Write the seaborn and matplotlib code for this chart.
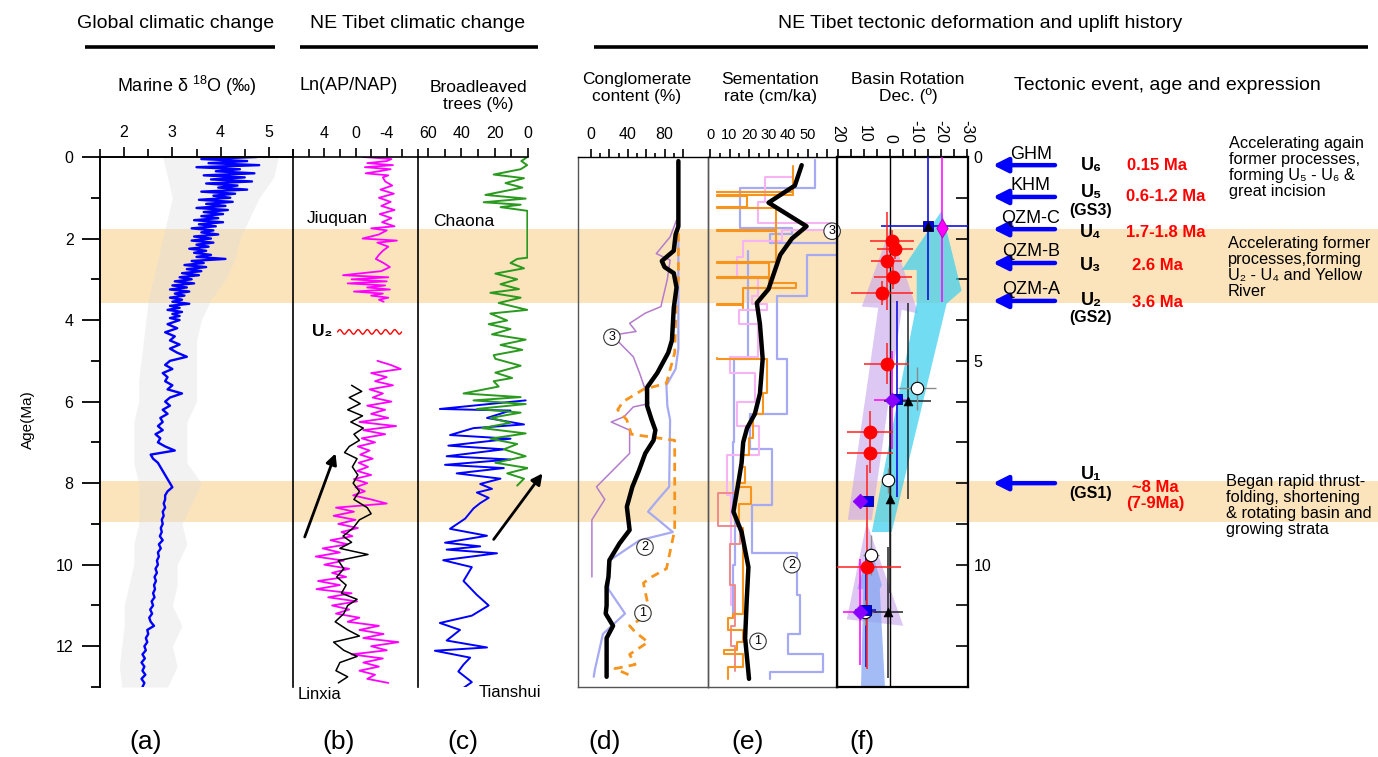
import numpy as np
import matplotlib
matplotlib.use('Agg')
import matplotlib.pyplot as plt
import seaborn as sns
from matplotlib.ticker import MultipleLocator, FixedLocator, FuncFormatter, NullLocator
from matplotlib.lines import Line2D
from matplotlib.patches import Polygon

sns.set_theme(style='white')
plt.rcParams['font.family'] = ['Liberation Sans', 'DejaVu Sans']
plt.rcParams['axes.unicode_minus'] = False
plt.rcParams['text.color'] = 'black'
plt.rcParams['xtick.color'] = 'black'
plt.rcParams['ytick.color'] = 'black'
plt.rcParams['mathtext.fontset'] = 'custom'
plt.rcParams['mathtext.rm'] = 'Liberation Sans'
plt.rcParams['mathtext.it'] = 'Liberation Sans:italic'
plt.rcParams['mathtext.bf'] = 'Liberation Sans:bold'

# ------------------------------------------------------------------ data
# (a) marine d18O
d18o_age = np.round(np.concatenate([np.arange(0, 4.0, 0.05), np.arange(4.0, 13.001, 0.1)]), 2)
d18o_val = [4.75, 3.60, 4.55, 3.75, 4.80, 3.50, 4.40, 3.90, 4.70, 3.65,
            4.50, 3.80, 4.65, 3.70, 4.35, 3.95, 4.55, 3.60, 4.30, 3.85,
            4.20, 3.55, 4.25, 3.70, 4.10, 3.50, 4.15, 3.65, 4.05, 3.60,
            3.95, 3.45, 4.05, 3.55, 3.90, 3.40, 3.85, 3.60, 3.95, 3.45,
            3.80, 3.40, 3.85, 3.50, 3.75, 3.35, 3.70, 3.45, 3.80, 3.50,
            4.10, 3.40, 3.65, 3.25, 3.70, 3.30, 3.60, 3.20, 3.55, 3.15,
            3.40, 3.05, 3.45, 3.00, 3.30, 2.95, 3.35, 3.05, 3.25, 2.95,
            3.20, 3.00, 3.35, 2.95, 3.15, 2.90, 3.20, 3.00, 3.15, 2.95,
            3.15, 2.90, 3.10, 2.85, 3.05, 2.95, 3.15, 2.95, 3.10, 3.30,
            2.95, 2.85, 3.00, 2.80, 2.90, 2.85, 3.00, 2.90, 3.20, 2.95,
            2.85, 2.95, 2.80, 2.90, 2.75, 2.80, 2.70, 2.80, 2.65, 2.75,
            2.70, 2.85, 3.05, 2.55, 2.60, 2.70, 2.75, 2.80, 2.85, 2.90,
            2.95, 3.00, 2.90, 2.85, 2.85, 2.82, 2.85, 2.80, 2.82, 2.78,
            2.80, 2.76, 2.78, 2.74, 2.80, 2.72, 2.76, 2.70, 2.72, 2.68,
            2.70, 2.65, 2.68, 2.63, 2.66, 2.62, 2.64, 2.60, 2.63, 2.57,
            2.60, 2.54, 2.58, 2.52, 2.55, 2.62, 2.48, 2.50, 2.45, 2.48,
            2.42, 2.45, 2.38, 2.43, 2.36, 2.42, 2.38, 2.44, 2.36, 2.42, 2.38]
raw_age = [0, 0.5, 1, 1.5, 2, 2.5, 3, 3.5, 4, 4.5, 5, 5.5, 6, 6.5, 7, 7.5, 8, 8.5,
           9, 9.5, 10, 10.5, 11, 11.5, 12, 12.5, 13]
raw_lo = [2.8, 2.9, 3.0, 2.9, 2.8, 2.7, 2.6, 2.5, 2.45, 2.4, 2.35, 2.3, 2.3, 2.2,
          2.2, 2.2, 2.3, 2.3, 2.3, 2.2, 2.2, 2.1, 2.0, 2.0, 1.95, 1.9, 1.95]
raw_hi = [5.2, 5.1, 4.8, 4.6, 4.4, 4.3, 4.1, 3.8, 3.6, 3.5, 3.5, 3.5, 3.5, 3.3,
          3.3, 3.3, 3.6, 3.4, 3.2, 3.3, 3.1, 3.1, 3.0, 3.2, 3.0, 3.1, 2.9]

# (b) Ln(AP/NAP)
jiu_age = [0.0, 0.05, 0.1, 0.15, 0.2, 0.25, 0.3, 0.35, 0.4, 0.45, 0.5, 0.6, 0.7, 0.8,
           0.9, 1.0, 1.1, 1.2, 1.3, 1.4, 1.5, 1.6, 1.7, 1.75, 1.8, 1.9, 2.0, 2.05,
           2.1, 2.2, 2.3, 2.4, 2.5, 2.6, 2.7, 2.8, 2.9, 2.95, 3.0, 3.05, 3.1, 3.15,
           3.2, 3.25, 3.3, 3.35, 3.4, 3.45, 3.5, 3.55]
jiu_val = [-1.0, -4.6, -4.0, -1.5, -4.8, -1.2, -4.5, -3.0, -1.3, -4.2, -3.5, -3.8,
           -4.7, -3.2, -4.9, -3.0, -4.5, -3.3, -5.0, -3.1, -4.6, -3.4, -5.0, -2.0,
           -4.0, -3.0, -0.9, -5.3, -2.8, -4.2, -3.5, -3.0, -2.6, -3.6, -4.4, -3.3,
           1.6, -4.2, 0.5, -4.0, 1.0, -3.8, -1.5, -4.4, 0.2, -3.5, -2.0, -4.2, -3.0, -3.6]
linx_m_age = np.round(np.arange(5.0, 12.91, 0.1), 1)
linx_m_val = [-2.8, -4.5, -5.8, -2.0, -4.0, -2.5, -4.8, -1.8, -3.5, -2.2,
              -4.6, -1.5, -3.8, -2.0, -4.2, -0.5, -5.2, -1.0, -3.8, -0.8,
              -2.5, -0.3, -1.8, -0.6, -2.2, -0.4, -1.6, -0.2, -2.0, 0.2,
              -1.5, 0.0, -1.2, 0.3, -2.0, -4.0, 2.5, 0.2, 2.8, 0.0,
              2.2, -0.3, 1.8, 0.4, 3.2, 1.0, 4.2, 2.0, 5.1, 1.5,
              4.0, 0.8, 3.0, 1.2, 4.8, 2.0, 5.0, 0.5, 3.5, -0.2,
              3.0, 0.8, 2.5, -0.5, 1.0, -3.0, -0.5, -3.6, -1.0, -5.5,
              -2.0, -4.0, 0.5, -3.5, -1.0, -3.0, -0.5, -2.5, -1.5, -4.2]
linx_k_age = [5.6, 5.75, 5.9, 6.05, 6.2, 6.35, 6.5, 6.65, 6.8, 6.95, 7.1, 7.25, 7.4,
              7.6, 7.8, 8.0, 8.2, 8.4, 8.6, 8.75, 8.9, 9.1, 9.3, 9.45, 9.6, 9.75,
              9.9, 10.1, 10.3, 10.5, 10.7, 10.85, 11.0, 11.2, 11.4, 11.6, 11.75,
              11.9, 12.1, 12.25, 12.4, 12.6, 12.75, 12.9]
linx_k_val = [0.5, -0.8, 0.8, -0.6, 1.0, -0.9, 0.6, -1.0, 0.2, -0.5, 0.8, 1.4, -0.2,
              0.4, -0.3, 0.3, -0.5, 0.2, -1.5, -2.0, -0.5, 0.3, 1.6, 0.5, 2.0, -1.6,
              2.2, 1.5, 2.4, 1.2, 1.8, -0.2, 1.0, 1.5, 2.6, 1.0, -0.5, 2.8, 1.5, -0.2,
              2.0, 2.5, 1.0, 2.2]

# (c) broadleaved trees (%)
chaona_age = [0.0, 0.1, 0.2, 0.3, 0.43, 0.52, 0.64, 0.75, 0.93, 1.02, 1.11, 1.17, 1.23,
              1.32, 1.49, 2.47, 2.5, 2.6, 2.73, 2.86, 3.0, 3.12, 3.24, 3.33, 3.45, 3.58,
              3.75, 3.84, 4.01, 4.1, 4.22, 4.35, 4.48, 4.61, 4.73, 4.86, 4.95, 5.12,
              5.29, 5.42, 5.5, 5.63, 5.8, 5.89, 5.97, 6.06, 6.18, 6.27, 6.4, 6.52, 6.65,
              6.78, 6.91, 7.04, 7.17, 7.34, 7.5, 7.63, 7.76, 7.89, 8.06]
chaona_val = [0.4, 4.0, 0.5, 4.4, 20.6, 2.4, 13.5, 3.4, 25.6, 1.4, 26.6, 4.4, 16.5,
              0.4, 0.4, 0.4, 6.5, 10.5, 2.4, 19.6, 6.5, 16.5, 5.4, 22.6, 4.4, 17.6,
              0.4, 22.6, 12.5, 23.6, 10.5, 21.6, 1.4, 16.5, 3.4, 20.6, 19.6, 4.4,
              19.6, 9.5, 20.6, 17.6, 38.7, 4.4, 32.7, 1.4, 30.7, 4.4, 22.6, 10.5, 27.6,
              1.4, 22.6, 6.5, 14.5, 1.4, 19.6, 0.0, 12.5, 2.4, 6.5]
tianshui_age = [5.97, 6.18, 6.22, 6.4, 6.56, 6.65, 6.82, 6.91, 7.08, 7.17, 7.34, 7.42,
                7.55, 7.63, 7.76, 7.89, 8.02, 8.14, 8.23, 8.36, 8.49, 8.62, 8.87, 9.12,
                9.29, 9.46, 9.55, 9.63, 9.72, 9.89, 10.06, 10.4, 10.74, 11.0, 11.25,
                11.43, 11.6, 11.86, 12.03, 12.11, 12.28, 12.45, 12.62, 12.88, 13.05]
tianshui_val = [1.4, 52.9, 10.5, 24.6, 2.4, 32.7, 46.8, 10.5, 47.8, 14.5, 48.8, 10.5,
                49.8, 14.5, 42.8, 16.5, 28.7, 21.6, 30.7, 23.6, 28.7, 32.7, 37.7, 46.8,
                24.6, 49.8, 28.7, 48.8, 18.6, 50.9, 33.7, 38.7, 30.7, 23.6, 33.7, 52.9,
                40.8, 48.8, 24.6, 55.9, 34.7, 38.7, 41.8, 33.7, 39.7]

# (d) conglomerate content (%)
dk_age = [0.1, 1.7, 1.9, 2.3, 2.55, 2.7, 2.85, 3.2, 3.7, 4.5, 4.8, 5.3, 5.65, 6.1,
          6.45, 6.7, 6.95, 7.27, 7.7, 8.09, 8.58, 9.15, 9.48, 9.89, 10.3, 10.54,
          11.0, 11.2, 11.5, 11.8, 12.2, 12.75]
dk_val = [95, 95, 92, 90, 77, 80, 90, 93, 90, 88, 84, 72, 61, 61, 66, 70, 68, 59, 52,
          45, 39, 42, 31, 20, 19, 17, 17, 16, 24, 17, 17, 17]
do_age = [0.1, 3.0, 3.3, 4.8, 5.55, 5.7, 6.0, 6.2, 6.45, 6.8, 6.95, 9.15, 10.1, 10.3,
          10.45, 11.2, 11.5, 11.65, 11.9, 12.2, 12.45, 12.55, 12.75]
do_val = [95, 95, 93, 91, 82, 57, 35, 29, 39, 44, 91, 91, 82, 66, 57, 64, 42, 48, 62,
          42, 48, 26, 46]
dl_age = [2.0, 4.7, 5.2, 5.6, 6.1, 6.45, 8.09, 8.4, 8.7, 8.9, 9.2, 9.4, 9.9, 10.6,
          11.2, 11.7, 12.6, 12.75]
dl_val = [95, 95, 92, 82, 83, 86, 85, 73, 62, 73, 89, 53, 20, 19, 37, 13, 4, 3]
dp_age = [1.55, 1.96, 2.37, 2.53, 3.0, 3.67, 3.83, 4.08, 4.28, 4.4, 4.49, 4.9, 5.31,
          5.64, 6.05, 6.13, 6.37, 6.5, 6.7, 7.27, 8.09, 8.4, 8.9, 10.3]
dp_val = [93, 86, 71, 86, 83, 76, 59, 42, 49, 15, 28, 46, 53, 58, 63, 46, 36, 22, 42,
          42, 6, 15, 1, 1]

# (e) sedimentation rate (cm/ka); step series: value holds from age[i] to age[i+1]
ek_age = [0.2, 0.7, 1.12, 1.7, 2.0, 2.4, 3.24, 3.58, 4.1, 4.95, 5.8, 6.3, 6.65, 7.0,
          7.5, 8.0, 8.7, 9.2, 10.06, 10.9, 11.8, 12.8]
ek_val = [47, 43.5, 30, 49.5, 42, 36, 30, 24, 25.6, 27, 25.6, 23, 19, 17, 16.2, 14.5,
          12, 16.2, 19.7, 18.8, 18, 20]
el2_age = [0.08, 0.77, 1.75, 1.88, 2.12, 2.4, 3.41, 4.95, 6.31, 7.17, 8.53, 9.72,
           10.75, 11.7, 12.2, 12.62, 12.8]
el2_val = [54, 15.4, 42, 30.8, 65.8, 49.6, 34.2, 39.3, 20.5, 31.6, 21.4, 44.4, 46, 40,
           58, 30.8, 30.8]
el1_age = [2.3, 4.95, 7.0, 8.5, 10.0, 11.3]
el1_val = [19.7, 12.5, 11.8, 13.0, 12.0, 12.0]
ep_age = [0.47, 0.48, 1.11, 1.62, 1.8, 2.05, 2.45, 2.95, 3.4, 3.6, 3.75, 4.1, 4.9, 5.3,
          6.0, 6.6, 7.3, 8.3, 9.5, 10.5, 11.0]
ep_val = [42.7, 28.2, 24.8, 62, 36.8, 17, 13.7, 24.8, 21.4, 29, 15, 24.8, 10.5, 23,
          13.7, 25, 8.5, 11, 10, 11, 11]
eo1_age = [0.21, 0.85, 0.87, 0.93, 0.95, 1.22, 1.24, 1.79, 1.81, 2.57, 2.59, 2.94,
           2.96, 3.1, 3.22, 3.6, 3.64, 3.7]
eo1_val = [42.7, 3.4, 42.7, 3.4, 18.8, 3.4, 34, 3.4, 34, 3.4, 30, 3.4, 30, 44, 17,
           3.4, 17, 17]
eo2_age = [4.94, 4.96, 5.8, 6.3, 6.9, 7.3, 7.6, 8.0, 8.1, 8.5, 9.1, 11.2, 11.3, 11.6,
           11.9, 12.1, 12.2, 12.5, 12.8]
eo2_val = [3.4, 29, 27, 22, 20, 16, 18, 13.7, 21, 15, 17, 12, 9.4, 17, 14, 7, 17, 9, 9]
es_age = [8.2, 8.23, 9.04, 9.5, 10.5, 11.5, 12.0, 12.6]
es_val = [12.8, 4.3, 15.4, 10.3, 12.8, 11, 13, 13]

# (f) basin rotation declination (deg)
red_dec = [-0.9, -2.1, 1.1, -1.3, 2.8, 1.1, 7.6, 7.6, 8.6]
red_age = [2.05, 2.26, 2.56, 2.94, 3.33, 5.07, 6.74, 7.25, 10.06]
red_xerr = [8.4, 7.0, 6.0, 7.5, 12.0, 8.7, 8.9, 8.9, 13.0]
red_yerr = [0.25, 0.25, 1.2, 0.3, 0.3, 0.5, 0.5, 0.5, 2.5]
wht_dec = [-10.5, 0.5, 7.3, 9.5]
wht_age = [5.67, 7.93, 9.76, 11.17]
wht_xerr = [7.3, 2.0, 3.0, 3.0]
wht_yerr = [0.53, 0.3, 0.5, 0.3]
tri_dec = [-14.8, -7.0, -0.1, 0.7]
tri_age = [1.70, 5.99, 8.40, 11.17]
tri_xerr = [0, 9.0, 0, 6.0]
tri_yerr = [0, 2.4, 2.3, 1.6]
sq_dec = [-14.8, -2.7, 8.3, 9.3]
sq_age = [1.70, 5.93, 8.44, 11.12]
sq_xerr = [18.0, 0, 0, 4.0]
sq_yerr = [1.8, 2.4, 0, 1.4]
pd_dec = [-0.8, 11.5, 11.5]
pd_age = [5.97, 8.44, 11.17]
pd_xerr = [6.8, 0, 6.5]
pd_yerr = [1.2, 0, 1.3]
md_dec = [-20.3]
md_age = [1.75]
md_yerr = [1.8]
lav1_dec = [16.2, 6.9, -4.7, -11.1, -0.2, 10.8, 4.4]
lav1_age = [8.9, 8.9, 3.75, 3.84, 1.75, 3.67, 3.7]
lav2_dec = [8.9, -5.3, 16.6]
lav2_age = [8.96, 11.5, 11.34]
blu_dec = [11.1, 1.8, 3.8, 3.0, 7.5, 12.6, 10.2]
blu_age = [13.0, 13.0, 10.6, 10.5, 9.55, 10.6, 10.6]
cyn_dec = [6.9, -0.8, -22.1, -27.9, -20.2, -4.7, -10.5, -10.5]
cyn_age = [9.2, 9.2, 3.6, 3.28, 1.32, 2.77, 2.77, 3.6]

# bands and tectonic events
band_ranges = [(1.77, 3.58), (7.95, 8.96)]
event_names = ['GHM', 'KHM', 'QZM-C', 'QZM-B', 'QZM-A', '']
event_ages = [0.2, 0.98, 1.77, 2.6, 3.53, 8.0]
u_labels = ['U₆', 'U₅', 'U₄', 'U₃', 'U₂', 'U₁']
u_ages = [0.2, 0.86, 1.84, 2.65, 3.51, 7.78]
gs_labels = ['(GS3)', '(GS2)', '(GS1)']
gs_ages = [1.3, 3.93, 8.25]
red_age_labels = ['0.15 Ma', '0.6-1.2 Ma', '1.7-1.8 Ma', '2.6 Ma', '3.6 Ma', '~8 Ma', '(7-9Ma)']
red_age_pos = [0.2, 0.98, 1.84, 2.65, 3.56, 8.1, 8.5]
descriptions = ['Accelerating again\nformer processes,\nforming U₅ - U₆ &\ngreat incision',
                'Accelerating former\nprocesses,forming\nU₂ - U₄ and Yellow\nRiver',
                'Began rapid thrust-\nfolding, shortening\n& rotating basin and\ngrowing strata']
desc_ages = [0.25, 2.71, 8.54]

# ------------------------------------------------------------------ figure
W, H = 1378, 757
fig = plt.figure(figsize=(W / 100, H / 100), dpi=100)
fig.patch.set_facecolor('white')


def add_ax(x0, y0, x1, y1):
    ax = fig.add_axes([x0 / W, 1 - y1 / H, (x1 - x0) / W, (y1 - y0) / H])
    ax.set_facecolor('none')
    ax.set_ylim(13, 0)
    return ax


def ftext(x, y, s, **kw):
    kw.setdefault('ha', 'center')
    kw.setdefault('va', 'center')
    fig.text(x / W, 1 - y / H, s, **kw)


def fline(x0, x1, y, lw=2.6):
    fig.add_artist(Line2D([x0 / W, x1 / W], [1 - y / H, 1 - y / H], color='black',
                          lw=lw, solid_capstyle='butt'))


BAND = '#fbe4bb'
TICK = 11.5

ax_bg = add_ax(100, 157, 1378, 687)
ax_bg.set_xlim(0, 1)
for lo, hi in band_ranges:
    ax_bg.axhspan(lo, hi, color=BAND, lw=0)
ax_bg.axis('off')


def style_spines(ax, show, color='black', lw=1.2):
    for side in ['top', 'bottom', 'left', 'right']:
        ax.spines[side].set_visible(side in show)
        ax.spines[side].set_color(color)
        ax.spines[side].set_linewidth(lw)


def top_ticks(ax, major, minor, lmaj=6.5, lmin=5, fmt=None, size=TICK):
    ax.xaxis.tick_top()
    ax.xaxis.set_major_locator(FixedLocator(major))
    ax.xaxis.set_minor_locator(FixedLocator(minor))
    if fmt is not None:
        ax.xaxis.set_major_formatter(FuncFormatter(fmt))
    ax.tick_params(axis='x', which='major', top=True, bottom=False, direction='out',
                   length=lmaj, width=1.2, labelsize=size, pad=5, colors='black')
    ax.tick_params(axis='x', which='minor', top=True, bottom=False, direction='out',
                   length=lmin, width=1.2)


# ---------------- (a)
ax_a = add_ax(100, 157, 293, 687)
ax_a.set_xlim(1.5, 5.5)
ax_a.fill_betweenx(raw_age, raw_lo, raw_hi, color='#dcdcdc', alpha=0.35, lw=0)
sns.lineplot(x=d18o_val, y=d18o_age, sort=False, estimator=None, color='#0000ff',
             lw=1.7, ax=ax_a)
style_spines(ax_a, ['top', 'left'], lw=1.4)
top_ticks(ax_a, [2, 3, 4, 5], [1.5, 2.5, 3.5, 4.5, 5.5], lmaj=7, lmin=5.5)
ax_a.yaxis.set_major_locator(MultipleLocator(2))
ax_a.yaxis.set_minor_locator(MultipleLocator(1))
ax_a.tick_params(axis='y', which='major', left=True, direction='out', length=13,
                 width=1.3, labelsize=TICK, pad=6)
ax_a.tick_params(axis='y', which='minor', left=True, direction='out', length=6.5, width=1.3)
ax_a.set_xlabel('')
ax_a.set_ylabel('')

# ---------------- (b)
ax_b = add_ax(293, 157, 418, 687)
ax_b.set_xlim(8, -8)
sns.lineplot(x=jiu_val, y=jiu_age, sort=False, estimator=None, color='#ff00ff', lw=1.3, ax=ax_b)
sns.lineplot(x=linx_m_val, y=linx_m_age, sort=False, estimator=None, color='#ff00ff', lw=1.3, ax=ax_b)
sns.lineplot(x=linx_k_val, y=linx_k_age, sort=False, estimator=None, color='black', lw=1.1, ax=ax_b)
style_spines(ax_b, ['top', 'left'], lw=1.2)
top_ticks(ax_b, [4, 0, -4], [8, 6, 2, -2, -6, -8], lmaj=6.5, lmin=5.5)
ax_b.yaxis.set_major_locator(NullLocator())
ax_b.tick_params(axis='y', left=False, right=False)
ax_b.set_xlabel('')
ax_b.set_ylabel('')
# U2 unconformity symbol (wavy line)
wx = np.linspace(2.3, -5.9, 300)
wy = 4.29 + 0.055 * np.sin((wx - 2.3) / 8.2 * 7 * 2 * np.pi)
ax_b.plot(wx, wy, color='red', lw=1.0)
ax_b.text(4.3, 4.29, 'U₂', fontsize=12.5, fontweight='bold', ha='center', va='center')
ax_b.text(2.3, 1.5, 'Jiuquan', fontsize=12.5, ha='center', va='center')
ax_b.text(4.6, 13.18, 'Linxia', fontsize=12, ha='center', va='center', clip_on=False)
ax_b.annotate('', xy=(2.56, 7.27), xytext=(6.5, 9.32),
              arrowprops=dict(arrowstyle='-|>', color='black', lw=2, mutation_scale=16,
                              shrinkA=0, shrinkB=0))

# ---------------- (c)
ax_c = add_ax(418, 157, 528, 687)
ax_c.set_xlim(66, 0)
sns.lineplot(x=tianshui_val, y=tianshui_age, sort=False, estimator=None, color='#0000ff', lw=1.4, ax=ax_c)
sns.lineplot(x=chaona_val, y=chaona_age, sort=False, estimator=None, color='#2a9a1f', lw=1.4, ax=ax_c)
style_spines(ax_c, ['top', 'left'], lw=1.2)
top_ticks(ax_c, [60, 40, 20, 0], [50, 30, 10], lmaj=6.5, lmin=5.5)
ax_c.yaxis.set_major_locator(NullLocator())
ax_c.tick_params(axis='y', left=False, right=False)
ax_c.set_xlabel('')
ax_c.set_ylabel('')
ax_c.text(38.7, 1.58, 'Chaona', fontsize=12.5, ha='center', va='center')
ax_c.text(10.8, 13.13, 'Tianshui', fontsize=12, ha='center', va='center', clip_on=False)
ax_c.annotate('', xy=(-8.7, 7.76), xytext=(20.6, 9.38), annotation_clip=False,
              arrowprops=dict(arrowstyle='-|>', color='black', lw=2, mutation_scale=16,
                              shrinkA=0, shrinkB=0))


def circled(ax, x, y, s):
    ax.text(x, y, s, fontsize=9, ha='center', va='center', zorder=6, clip_on=False,
            bbox=dict(boxstyle='circle,pad=0.18', fc='white', ec='#333333', lw=0.8))


# ---------------- (d)
ax_d = add_ax(578, 157, 708, 687)
ax_d.set_xlim(-14.1, 127.2)
sns.lineplot(x=dp_val, y=dp_age, sort=False, estimator=None, color='#b47ccc', lw=1.1, ax=ax_d)
sns.lineplot(x=dl_val, y=dl_age, sort=False, estimator=None, color='#a6aaf2', lw=1.6, ax=ax_d)
sns.lineplot(x=do_val, y=do_age, sort=False, estimator=None, color='#f7941d', lw=2.0,
             dashes=False, ax=ax_d, linestyle=(0, (3, 2.2)))
sns.lineplot(x=dk_val, y=dk_age, sort=False, estimator=None, color='black', lw=3.2, ax=ax_d)
style_spines(ax_d, ['top', 'bottom', 'left', 'right'], color='#555555', lw=1.0)
top_ticks(ax_d, [0, 20, 40, 60, 80, 100], [10, 30, 50, 70, 90], lmaj=5.5, lmin=3,
          fmt=lambda v, p: f'{int(round(v))}' if int(round(v)) in (0, 40, 80) else '')
ax_d.spines['top'].set_color('black')
ax_d.yaxis.set_major_locator(NullLocator())
ax_d.tick_params(axis='y', left=False, right=False)
ax_d.set_xlabel('')
ax_d.set_ylabel('')
circled(ax_d, 22.8, 4.42, '3')
circled(ax_d, 58.7, 9.57, '2')
circled(ax_d, 56.5, 11.19, '1')

# ---------------- (e)
ax_e = add_ax(708, 157, 837, 687)
ax_e.set_xlim(-1.03, 65.1)
ax_e.step(el2_val, el2_age, where='pre', color='#a6aaf2', lw=1.6)
ax_e.step(el1_val, el1_age, where='pre', color='#a6aaf2', lw=1.6)
ax_e.step(ep_val, ep_age, where='pre', color='#f6b4f4', lw=1.5)
ax_e.step(es_val, es_age, where='pre', color='#f08a8a', lw=1.4)
ax_e.step(eo1_val, eo1_age, where='pre', color='#f7941d', lw=1.5)
ax_e.step(eo2_val, eo2_age, where='pre', color='#f7941d', lw=1.5)
sns.lineplot(x=ek_val, y=ek_age, sort=False, estimator=None, color='black', lw=3.2, ax=ax_e)
style_spines(ax_e, ['top', 'bottom', 'left', 'right'], color='#555555', lw=1.0)
top_ticks(ax_e, [0, 10, 20, 30, 40, 50, 60], [5, 15, 25, 35, 45, 55], lmaj=5.5, lmin=3,
          fmt=lambda v, p: f'{int(round(v))}' if int(round(v)) <= 50 else '', size=10.5)
ax_e.spines['top'].set_color('black')
ax_e.yaxis.set_major_locator(NullLocator())
ax_e.tick_params(axis='y', left=False, right=False)
ax_e.set_xlabel('')
ax_e.set_ylabel('')
circled(ax_e, 62.6, 1.82, '3')
circled(ax_e, 42.0, 10.0, '2')
circled(ax_e, 24.6, 11.88, '1')

# ---------------- (f)
ax_f = add_ax(837, 157, 968, 687)
ax_f.set_xlim(20.4, -30.4)
ax_f.add_patch(Polygon(np.column_stack([lav1_dec, lav1_age]), closed=True, fc='#c7a4ee',
                       alpha=0.6, lw=0, zorder=1))
ax_f.add_patch(Polygon(np.column_stack([lav2_dec, lav2_age]), closed=True, fc='#c7a4ee',
                       alpha=0.6, lw=0, zorder=1))
ax_f.add_patch(Polygon(np.column_stack([blu_dec, blu_age]), closed=True, fc='#86a6f2',
                       alpha=0.75, lw=0, zorder=1))
ax_f.add_patch(Polygon(np.column_stack([cyn_dec, cyn_age]), closed=True, fc='#3ccfee',
                       alpha=0.72, lw=0, zorder=1.1))
ax_f.axvline(0, color='black', lw=1.0, zorder=2)
ax_f.errorbar(sq_dec, sq_age, xerr=sq_xerr, yerr=sq_yerr, fmt='none', ecolor='#1010e0',
              elinewidth=1.2, zorder=3)
ax_f.errorbar(md_dec, md_age, yerr=md_yerr, fmt='none', ecolor='#ff00ff', elinewidth=1.1, zorder=3)
ax_f.errorbar(pd_dec, pd_age, xerr=pd_xerr, yerr=pd_yerr, fmt='none', ecolor='#ff00ff',
              elinewidth=1.1, zorder=3)
ax_f.errorbar(tri_dec, tri_age, xerr=tri_xerr, yerr=tri_yerr, fmt='none', ecolor='#222222',
              elinewidth=1.1, zorder=3)
ax_f.errorbar(wht_dec, wht_age, xerr=wht_xerr, yerr=wht_yerr, fmt='none', ecolor='#8a8a8a',
              elinewidth=1.0, zorder=3)
ax_f.errorbar(red_dec, red_age, xerr=red_xerr, yerr=red_yerr, fmt='none', ecolor='#ff2020',
              elinewidth=1.1, zorder=3)
sns.scatterplot(x=red_dec, y=red_age, color='#ff0000', s=85, edgecolor='#ff0000', ax=ax_f, zorder=4)
sns.scatterplot(x=wht_dec, y=wht_age, color='white', s=80, edgecolor='black', linewidth=0.8,
                ax=ax_f, zorder=4)
sns.scatterplot(x=sq_dec, y=sq_age, color='#0000ee', marker='s', s=60, edgecolor='#000080',
                ax=ax_f, zorder=4)
sns.scatterplot(x=pd_dec, y=pd_age, color='#8a00ff', marker='D', s=55, edgecolor='#8a00ff',
                ax=ax_f, zorder=4.5)
sns.scatterplot(x=md_dec, y=md_age, color='#ff00ff', marker='d', s=90, edgecolor='#c000c0',
                ax=ax_f, zorder=4.5)
sns.scatterplot(x=tri_dec, y=tri_age, color='black', marker='^', s=40, edgecolor='black',
                ax=ax_f, zorder=5)
style_spines(ax_f, ['top', 'bottom', 'left', 'right'], color='black', lw=1.6)
top_ticks(ax_f, [20, 10, 0, -10, -20, -30], [15, 5, -5, -15, -25], lmaj=6, lmin=6)
ax_f.tick_params(axis='x', which='major', labelrotation=-90, pad=4)
ax_f.yaxis.tick_right()
ax_f.yaxis.set_major_locator(MultipleLocator(5))
ax_f.yaxis.set_minor_locator(MultipleLocator(1))
ax_f.tick_params(axis='y', which='both', right=True, left=False, direction='in', length=9,
                 width=1.2, labelsize=TICK, pad=4)
ax_f.set_xlabel('')
ax_f.set_ylabel('')

# ---------------- right-hand annotations
ax_r = add_ax(968, 157, 1378, 687)
ax_r.set_xlim(968, 1378)
ax_r.axis('off')
for name, age in zip(event_names, event_ages):
    ax_r.annotate('', xy=(993, age), xytext=(1055, age), annotation_clip=False,
                  arrowprops=dict(arrowstyle='-|>', color='#0000ff', lw=3.2,
                                  mutation_scale=22, shrinkA=0, shrinkB=0))
    if name:
        ax_r.text(1031, age - 0.27, name, fontsize=13, ha='center', va='center', clip_on=False)
for lab, age in zip(u_labels, u_ages):
    ax_r.text(1091, age, lab, fontsize=13, fontweight='bold', ha='center', va='center',
              clip_on=False)
for lab, age in zip(gs_labels, gs_ages):
    ax_r.text(1091, age, lab, fontsize=11.5, fontweight='bold', ha='center', va='center',
              clip_on=False)
for i, (lab, age) in enumerate(zip(red_age_labels, red_age_pos)):
    xx = 1166 if i in (1, 2) else (1155 if i >= 5 else 1157)
    ax_r.text(xx, age, lab, fontsize=12, fontweight='bold', color='#ff0000', ha='center',
              va='center', clip_on=False)
for txt, age, xx in zip(descriptions, desc_ages, [1229, 1228, 1226]):
    ax_r.text(xx, age, txt, fontsize=11.8, ha='left', va='center', linespacing=1.08,
              clip_on=False)

# ---------------- headers and labels
ftext(176, 23, 'Global climatic change', fontsize=14)
ftext(418, 23, 'NE Tibet climatic change', fontsize=14)
ftext(980, 23, 'NE Tibet tectonic deformation and uplift history', fontsize=14)
fline(85, 275, 47)
fline(300, 538, 47)
fline(594, 1368, 47)
ftext(187, 86, r'Marine δ $^{18}$O (‰)', fontsize=13)
ftext(349, 86, 'Ln(AP/NAP)', fontsize=13)
ftext(478, 96, 'Broadleaved\ntrees (%)', fontsize=12.5, linespacing=1.15)
ftext(637, 88, 'Conglomerate\ncontent (%)', fontsize=12.5, linespacing=1.1)
ftext(770, 88, 'Sementation\nrate (cm/ka)', fontsize=12.5, linespacing=1.1)
ftext(908, 88, 'Basin Rotation\nDec. (º)', fontsize=12.5, linespacing=1.1)
ftext(1167, 86, 'Tectonic event, age and expression', fontsize=14)
ftext(28, 420, 'Age(Ma)', fontsize=11, rotation=90)
for lab, x in zip(['(a)', '(b)', '(c)', '(d)', '(e)', '(f)'], [146, 339, 463, 605, 748, 862]):
    ftext(x, 742, lab, fontsize=19)

fig.savefig('out.png', dpi=100, facecolor='white')
